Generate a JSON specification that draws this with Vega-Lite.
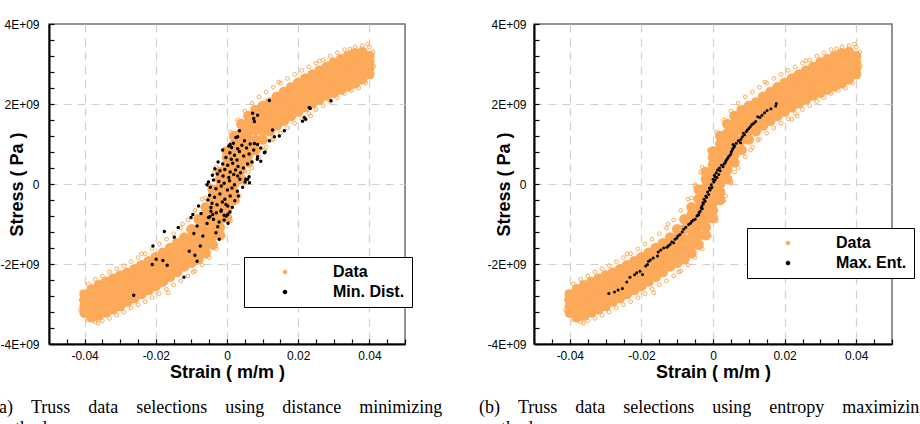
{
"$schema":"https://vega.github.io/schema/vega-lite/v6.json",
"background":"white",
"padding":{"left":-8,"top":17,"right":0,"bottom":0},
"bounds":"flush",
"spacing":129,
"datasets":{
"core":[
{"strain":0,"stress":-0.85e9},{"strain":0,"stress":-0.66e9},{"strain":0,"stress":-0.47e9},{"strain":0,"stress":-0.28e9},{"strain":0,"stress":-0.09e9},{"strain":0,"stress":0.1e9},{"strain":0,"stress":0.29e9},{"strain":0,"stress":0.48e9},{"strain":0,"stress":0.66e9},{"strain":0,"stress":0.82e9},
{"strain":0.002,"stress":-0.4e9},{"strain":0.002,"stress":-0.2e9},{"strain":0.002,"stress":0},{"strain":0.002,"stress":0.2e9},{"strain":0.002,"stress":0.4e9},{"strain":0.002,"stress":0.6e9},{"strain":0.002,"stress":0.8e9},{"strain":0.002,"stress":1.0e9},{"strain":0.002,"stress":1.2e9},
{"strain":-0.002,"stress":-1.28e9},{"strain":-0.002,"stress":-1.08e9},{"strain":-0.002,"stress":-0.88e9},{"strain":-0.002,"stress":-0.68e9},{"strain":-0.002,"stress":-0.48e9},{"strain":-0.002,"stress":-0.28e9},{"strain":-0.002,"stress":-0.08e9},{"strain":-0.002,"stress":0.12e9},{"strain":-0.002,"stress":0.3e9},
{"strain":0.004,"stress":0.12e9},{"strain":0.004,"stress":0.35e9},{"strain":0.004,"stress":0.58e9},{"strain":0.004,"stress":0.81e9},{"strain":0.004,"stress":1.04e9},{"strain":0.004,"stress":1.27e9},{"strain":0.004,"stress":1.5e9},
{"strain":-0.004,"stress":-1.52e9},{"strain":-0.004,"stress":-1.29e9},{"strain":-0.004,"stress":-1.06e9},{"strain":-0.004,"stress":-0.83e9},{"strain":-0.004,"stress":-0.6e9},{"strain":-0.004,"stress":-0.37e9},{"strain":-0.004,"stress":-0.14e9},
{"strain":0.006,"stress":0.54e9},{"strain":0.006,"stress":0.73e9},{"strain":0.006,"stress":0.93e9},{"strain":0.006,"stress":1.12e9},{"strain":0.006,"stress":1.31e9},{"strain":0.006,"stress":1.51e9},{"strain":0.006,"stress":1.7e9},
{"strain":-0.006,"stress":-1.73e9},{"strain":-0.006,"stress":-1.54e9},{"strain":-0.006,"stress":-1.35e9},{"strain":-0.006,"stress":-1.15e9},{"strain":-0.006,"stress":-0.96e9},{"strain":-0.006,"stress":-0.77e9},{"strain":-0.006,"stress":-0.58e9},
{"strain":0.008,"stress":0.85e9},{"strain":0.008,"stress":1.1e9},{"strain":0.008,"stress":1.35e9},{"strain":0.008,"stress":1.6e9},{"strain":0.008,"stress":1.85e9},
{"strain":-0.008,"stress":-1.88e9},{"strain":-0.008,"stress":-1.63e9},{"strain":-0.008,"stress":-1.38e9},{"strain":-0.008,"stress":-1.13e9},{"strain":-0.008,"stress":-0.88e9},
{"strain":0.01,"stress":1.11e9},{"strain":0.01,"stress":1.32e9},{"strain":0.01,"stress":1.53e9},{"strain":0.01,"stress":1.74e9},{"strain":0.01,"stress":1.95e9},
{"strain":-0.01,"stress":-1.97e9},{"strain":-0.01,"stress":-1.76e9},{"strain":-0.01,"stress":-1.55e9},{"strain":-0.01,"stress":-1.34e9},{"strain":-0.01,"stress":-1.13e9},
{"strain":0.012,"stress":1.32e9},{"strain":0.012,"stress":1.5e9},{"strain":0.012,"stress":1.68e9},{"strain":0.012,"stress":1.86e9},{"strain":0.012,"stress":2.04e9},
{"strain":-0.012,"stress":-2.06e9},{"strain":-0.012,"stress":-1.88e9},{"strain":-0.012,"stress":-1.7e9},{"strain":-0.012,"stress":-1.52e9},{"strain":-0.012,"stress":-1.34e9},
{"strain":0.014,"stress":1.46e9},{"strain":0.014,"stress":1.64e9},{"strain":0.014,"stress":1.82e9},{"strain":0.014,"stress":2.0e9},{"strain":0.014,"stress":2.18e9},
{"strain":-0.014,"stress":-2.2e9},{"strain":-0.014,"stress":-2.02e9},{"strain":-0.014,"stress":-1.84e9},{"strain":-0.014,"stress":-1.66e9},{"strain":-0.014,"stress":-1.48e9},
{"strain":0.016,"stress":1.58e9},{"strain":0.016,"stress":1.76e9},{"strain":0.016,"stress":1.94e9},{"strain":0.016,"stress":2.12e9},{"strain":0.016,"stress":2.3e9},
{"strain":-0.016,"stress":-2.32e9},{"strain":-0.016,"stress":-2.14e9},{"strain":-0.016,"stress":-1.96e9},{"strain":-0.016,"stress":-1.78e9},{"strain":-0.016,"stress":-1.6e9},
{"strain":0.018,"stress":1.7e9},{"strain":0.018,"stress":1.88e9},{"strain":0.018,"stress":2.06e9},{"strain":0.018,"stress":2.24e9},{"strain":0.018,"stress":2.42e9},
{"strain":-0.018,"stress":-2.44e9},{"strain":-0.018,"stress":-2.26e9},{"strain":-0.018,"stress":-2.08e9},{"strain":-0.018,"stress":-1.9e9},{"strain":-0.018,"stress":-1.72e9},
{"strain":0.02,"stress":1.81e9},{"strain":0.02,"stress":1.99e9},{"strain":0.02,"stress":2.17e9},{"strain":0.02,"stress":2.35e9},{"strain":0.02,"stress":2.53e9},
{"strain":-0.02,"stress":-2.55e9},{"strain":-0.02,"stress":-2.37e9},{"strain":-0.02,"stress":-2.19e9},{"strain":-0.02,"stress":-2.01e9},{"strain":-0.02,"stress":-1.83e9},
{"strain":0.022,"stress":1.92e9},{"strain":0.022,"stress":2.1e9},{"strain":0.022,"stress":2.28e9},{"strain":0.022,"stress":2.46e9},{"strain":0.022,"stress":2.64e9},
{"strain":-0.022,"stress":-2.65e9},{"strain":-0.022,"stress":-2.47e9},{"strain":-0.022,"stress":-2.29e9},{"strain":-0.022,"stress":-2.11e9},{"strain":-0.022,"stress":-1.93e9},
{"strain":0.024,"stress":2.02e9},{"strain":0.024,"stress":2.2e9},{"strain":0.024,"stress":2.38e9},{"strain":0.024,"stress":2.56e9},{"strain":0.024,"stress":2.74e9},
{"strain":-0.024,"stress":-2.75e9},{"strain":-0.024,"stress":-2.57e9},{"strain":-0.024,"stress":-2.39e9},{"strain":-0.024,"stress":-2.21e9},{"strain":-0.024,"stress":-2.03e9},
{"strain":0.026,"stress":2.12e9},{"strain":0.026,"stress":2.3e9},{"strain":0.026,"stress":2.48e9},{"strain":0.026,"stress":2.66e9},{"strain":0.026,"stress":2.84e9},
{"strain":-0.026,"stress":-2.85e9},{"strain":-0.026,"stress":-2.67e9},{"strain":-0.026,"stress":-2.49e9},{"strain":-0.026,"stress":-2.31e9},{"strain":-0.026,"stress":-2.13e9},
{"strain":0.028,"stress":2.21e9},{"strain":0.028,"stress":2.39e9},{"strain":0.028,"stress":2.57e9},{"strain":0.028,"stress":2.75e9},{"strain":0.028,"stress":2.93e9},
{"strain":-0.028,"stress":-2.94e9},{"strain":-0.028,"stress":-2.76e9},{"strain":-0.028,"stress":-2.58e9},{"strain":-0.028,"stress":-2.4e9},{"strain":-0.028,"stress":-2.22e9},
{"strain":0.03,"stress":2.28e9},{"strain":0.03,"stress":2.47e9},{"strain":0.03,"stress":2.66e9},{"strain":0.03,"stress":2.85e9},{"strain":0.03,"stress":3.04e9},
{"strain":-0.03,"stress":-3.05e9},{"strain":-0.03,"stress":-2.86e9},{"strain":-0.03,"stress":-2.67e9},{"strain":-0.03,"stress":-2.48e9},{"strain":-0.03,"stress":-2.29e9},
{"strain":0.032,"stress":2.36e9},{"strain":0.032,"stress":2.55e9},{"strain":0.032,"stress":2.74e9},{"strain":0.032,"stress":2.93e9},{"strain":0.032,"stress":3.12e9},
{"strain":-0.032,"stress":-3.13e9},{"strain":-0.032,"stress":-2.94e9},{"strain":-0.032,"stress":-2.75e9},{"strain":-0.032,"stress":-2.56e9},{"strain":-0.032,"stress":-2.37e9},
{"strain":0.034,"stress":2.44e9},{"strain":0.034,"stress":2.63e9},{"strain":0.034,"stress":2.82e9},{"strain":0.034,"stress":3.01e9},{"strain":0.034,"stress":3.2e9},
{"strain":-0.034,"stress":-3.21e9},{"strain":-0.034,"stress":-3.02e9},{"strain":-0.034,"stress":-2.83e9},{"strain":-0.034,"stress":-2.64e9},{"strain":-0.034,"stress":-2.45e9},
{"strain":0.036,"stress":2.52e9},{"strain":0.036,"stress":2.71e9},{"strain":0.036,"stress":2.9e9},{"strain":0.036,"stress":3.09e9},{"strain":0.036,"stress":3.27e9},
{"strain":-0.036,"stress":-3.29e9},{"strain":-0.036,"stress":-3.1e9},{"strain":-0.036,"stress":-2.91e9},{"strain":-0.036,"stress":-2.72e9},{"strain":-0.036,"stress":-2.53e9},
{"strain":0.038,"stress":2.62e9},{"strain":0.038,"stress":2.8e9},{"strain":0.038,"stress":2.97e9},{"strain":0.038,"stress":3.14e9},{"strain":0.038,"stress":3.3e9},
{"strain":-0.038,"stress":-3.33e9},{"strain":-0.038,"stress":-3.15e9},{"strain":-0.038,"stress":-2.98e9},{"strain":-0.038,"stress":-2.81e9},{"strain":-0.038,"stress":-2.63e9},
{"strain":0.04,"stress":2.75e9},{"strain":0.04,"stress":2.9e9},{"strain":0.04,"stress":3.05e9},{"strain":0.04,"stress":3.2e9},
{"strain":-0.04,"stress":-3.22e9},{"strain":-0.04,"stress":-3.06e9},{"strain":-0.04,"stress":-2.9e9},{"strain":-0.04,"stress":-2.76e9}
],
"edge":[
{"strain":0.041,"stress":3.3e9},{"strain":0.04,"stress":3.42e9},{"strain":0.038,"stress":3.46e9},{"strain":0.036,"stress":3.43e9},{"strain":0.0345,"stress":3.38e9},{"strain":0.033,"stress":3.36e9},{"strain":0.031,"stress":3.28e9},{"strain":0.029,"stress":3.2e9},{"strain":0.027,"stress":3.1e9},{"strain":0.025,"stress":3.02e9},{"strain":0.023,"stress":2.93e9},{"strain":0.021,"stress":2.84e9},{"strain":0.019,"stress":2.74e9},{"strain":0.017,"stress":2.64e9},{"strain":0.015,"stress":2.52e9},{"strain":0.013,"stress":2.42e9},{"strain":0.011,"stress":2.3e9},{"strain":0.009,"stress":2.18e9},{"strain":0.007,"stress":2.02e9},{"strain":0.005,"stress":1.82e9},{"strain":0.003,"stress":1.6e9},{"strain":0.001,"stress":1.3e9},{"strain":-0.001,"stress":0.85e9},{"strain":-0.003,"stress":0.42e9},{"strain":-0.005,"stress":-0.02e9},{"strain":-0.007,"stress":-0.38e9},{"strain":-0.009,"stress":-0.66e9},{"strain":-0.011,"stress":-0.9e9},{"strain":-0.013,"stress":-1.1e9},{"strain":-0.015,"stress":-1.24e9},{"strain":-0.017,"stress":-1.38e9},{"strain":-0.019,"stress":-1.5e9},{"strain":-0.021,"stress":-1.62e9},{"strain":-0.023,"stress":-1.74e9},{"strain":-0.025,"stress":-1.84e9},{"strain":-0.027,"stress":-1.94e9},{"strain":-0.029,"stress":-2.04e9},{"strain":-0.031,"stress":-2.12e9},{"strain":-0.033,"stress":-2.2e9},{"strain":-0.035,"stress":-2.3e9},{"strain":-0.037,"stress":-2.38e9},{"strain":-0.039,"stress":-2.5e9},{"strain":-0.0408,"stress":-2.7e9},
{"strain":0.0412,"stress":2.95e9},{"strain":0.0405,"stress":2.68e9},{"strain":0.039,"stress":2.52e9},{"strain":0.037,"stress":2.4e9},{"strain":0.035,"stress":2.34e9},{"strain":0.033,"stress":2.26e9},{"strain":0.031,"stress":2.16e9},{"strain":0.029,"stress":2.06e9},{"strain":0.027,"stress":1.96e9},{"strain":0.025,"stress":1.86e9},{"strain":0.023,"stress":1.76e9},{"strain":0.021,"stress":1.63e9},{"strain":0.019,"stress":1.52e9},{"strain":0.017,"stress":1.4e9},{"strain":0.015,"stress":1.27e9},{"strain":0.013,"stress":1.12e9},{"strain":0.011,"stress":0.92e9},{"strain":0.009,"stress":0.68e9},{"strain":0.007,"stress":0.4e9},{"strain":0.005,"stress":0.05e9},{"strain":0.003,"stress":-0.42e9},{"strain":0.001,"stress":-0.92e9},{"strain":-0.001,"stress":-1.3e9},{"strain":-0.003,"stress":-1.62e9},{"strain":-0.005,"stress":-1.84e9},{"strain":-0.007,"stress":-2.02e9},{"strain":-0.009,"stress":-2.18e9},{"strain":-0.011,"stress":-2.3e9},{"strain":-0.013,"stress":-2.42e9},{"strain":-0.015,"stress":-2.52e9},{"strain":-0.017,"stress":-2.63e9},{"strain":-0.019,"stress":-2.74e9},{"strain":-0.021,"stress":-2.84e9},{"strain":-0.023,"stress":-2.94e9},{"strain":-0.025,"stress":-3.02e9},{"strain":-0.027,"stress":-3.1e9},{"strain":-0.029,"stress":-3.2e9},{"strain":-0.031,"stress":-3.28e9},{"strain":-0.033,"stress":-3.36e9},{"strain":-0.035,"stress":-3.42e9},{"strain":-0.037,"stress":-3.45e9},{"strain":-0.039,"stress":-3.4e9},{"strain":-0.0412,"stress":-3.15e9},{"strain":-0.041,"stress":-2.9e9},
{"strain":0.0235,"stress":1.7e9},{"strain":0.022,"stress":1.62e9},{"strain":0.0395,"stress":3.5e9},{"strain":-0.0362,"stress":-3.48e9},{"strain":-0.0165,"stress":-2.72e9},{"strain":0.0145,"stress":2.55e9},{"strain":-0.0125,"stress":-1.0e9},{"strain":0.0105,"stress":0.85e9},{"strain":-0.024,"stress":-1.75e9},{"strain":0.026,"stress":3.08e9},{"strain":0.0125,"stress":1.1e9},{"strain":-0.0095,"stress":-2.2e9},
{"strain":0.005,"stress":0.02e9},{"strain":0.006,"stress":0.3e9},{"strain":-0.005,"stress":-0.05e9},{"strain":-0.006,"stress":-0.35e9},{"strain":0.0035,"stress":-0.3e9},{"strain":-0.0035,"stress":0.3e9}
],
"mind":[
{"strain":0.0119,"stress":2.09e9},{"strain":0.0231,"stress":1.91e9},{"strain":0.0221,"stress":1.62e9},{"strain":0.0212,"stress":1.57e9},{"strain":0.0292,"stress":2.08e9},{"strain":0.0234,"stress":1.89e9},{"strain":0.0217,"stress":1.66e9},{"strain":0.0072,"stress":1.77e9},{"strain":0.0086,"stress":1.72e9},{"strain":0.0075,"stress":1.64e9},{"strain":0.0077,"stress":1.56e9},{"strain":0.0161,"stress":1.33e9},{"strain":0.0128,"stress":1.35e9},{"strain":0.0147,"stress":1.2e9},{"strain":0.0133,"stress":1.18e9},{"strain":0.0035,"stress":1.33e9},{"strain":0.0025,"stress":1.16e9},{"strain":0.0049,"stress":1.08e9},{"strain":0.0077,"stress":1.01e9},{"strain":0.0086,"stress":0.99e9},{"strain":0.0119,"stress":1.08e9},{"strain":0.0013,"stress":0.91e9},{"strain":0.0009,"stress":0.99e9},{"strain":0.0107,"stress":0.8e9},{"strain":0.0086,"stress":0.68e9},{"strain":0.0058,"stress":0.12e9},{"strain":0.003,"stress":1.18e9},
{"strain":0.0005,"stress":0.95e9},{"strain":0.0018,"stress":1.02e9},{"strain":0.003,"stress":0.88e9},{"strain":0.0042,"stress":0.97e9},{"strain":0.0055,"stress":0.9e9},{"strain":0.0008,"stress":0.78e9},{"strain":0.0021,"stress":0.72e9},{"strain":0.0035,"stress":0.81e9},{"strain":-0.0003,"stress":0.66e9},{"strain":0.0012,"stress":0.62e9},{"strain":0.0028,"stress":0.6e9},{"strain":0.0047,"stress":0.7e9},{"strain":0.0062,"stress":0.75e9},{"strain":-0.0012,"stress":0.85e9},{"strain":0.0065,"stress":1.0e9},
{"strain":-0.0025,"stress":0.55e9},{"strain":-0.0012,"stress":0.5e9},{"strain":0.0002,"stress":0.47e9},{"strain":0.0016,"stress":0.52e9},{"strain":0.0031,"stress":0.44e9},{"strain":-0.0034,"stress":0.38e9},{"strain":-0.002,"stress":0.33e9},{"strain":-0.0006,"stress":0.36e9},{"strain":0.0009,"stress":0.3e9},{"strain":0.0024,"stress":0.35e9},{"strain":0.0038,"stress":0.28e9},{"strain":-0.0041,"stress":0.22e9},{"strain":-0.0027,"stress":0.25e9},{"strain":-0.0011,"stress":0.2e9},{"strain":0.0005,"stress":0.16e9},{"strain":0.0019,"stress":0.24e9},{"strain":0.0046,"stress":0.4e9},{"strain":0.0058,"stress":0.5e9},
{"strain":-0.0052,"stress":0.05e9},{"strain":-0.0038,"stress":0.1e9},{"strain":-0.0023,"stress":0.06e9},{"strain":-0.0008,"stress":0.02e9},{"strain":0.0007,"stress":0.08e9},{"strain":0.0021,"stress":-0.02e9},{"strain":0.0036,"stress":0.12e9},{"strain":0.0051,"stress":0.05e9},{"strain":0.0062,"stress":0.18e9},{"strain":-0.0047,"stress":-0.08e9},{"strain":-0.0031,"stress":-0.12e9},{"strain":-0.0016,"stress":-0.05e9},{"strain":0.0001,"stress":-0.15e9},{"strain":0.0014,"stress":-0.1e9},{"strain":0.0029,"stress":-0.18e9},{"strain":-0.0056,"stress":-0.02e9},{"strain":0.0044,"stress":-0.08e9},
{"strain":-0.0049,"stress":-0.28e9},{"strain":-0.0035,"stress":-0.33e9},{"strain":-0.002,"stress":-0.25e9},{"strain":-0.0006,"stress":-0.38e9},{"strain":0.0009,"stress":-0.3e9},{"strain":0.0022,"stress":-0.42e9},{"strain":-0.0042,"stress":-0.48e9},{"strain":-0.0028,"stress":-0.52e9},{"strain":-0.0013,"stress":-0.45e9},{"strain":0.0002,"stress":-0.55e9},{"strain":0.0015,"stress":-0.58e9},{"strain":-0.0054,"stress":-0.4e9},{"strain":0.0032,"stress":-0.3e9},
{"strain":-0.0045,"stress":-0.68e9},{"strain":-0.003,"stress":-0.72e9},{"strain":-0.0016,"stress":-0.65e9},{"strain":-0.0002,"stress":-0.8e9},{"strain":0.0008,"stress":-0.7e9},{"strain":-0.0038,"stress":-0.88e9},{"strain":-0.0022,"stress":-0.95e9},{"strain":-0.0008,"stress":-0.9e9},{"strain":0.0003,"stress":-0.98e9},{"strain":-0.0048,"stress":-0.82e9},
{"strain":-0.0176,"stress":-1.19e9},{"strain":-0.0208,"stress":-1.55e9},{"strain":-0.0137,"stress":-1.09e9},{"strain":-0.0148,"stress":-1.33e9},{"strain":-0.0199,"stress":-1.88e9},{"strain":-0.021,"stress":-2.01e9},{"strain":-0.018,"stress":-1.91e9},{"strain":-0.0168,"stress":-2.03e9},{"strain":-0.0121,"stress":-2.33e9},{"strain":-0.0106,"stress":-1.68e9},{"strain":-0.009,"stress":-1.78e9},{"strain":-0.0084,"stress":-1.93e9},{"strain":-0.0075,"stress":-1.55e9},{"strain":-0.0093,"stress":-1.24e9},{"strain":-0.0068,"stress":-1.3e9},{"strain":-0.0084,"stress":-1.05e9},{"strain":-0.0056,"stress":-0.99e9},{"strain":-0.0052,"stress":-0.84e9},{"strain":-0.0026,"stress":-1.07e9},{"strain":-0.0022,"stress":-1.38e9},{"strain":-0.0031,"stress":-1.22e9},{"strain":-0.0096,"stress":-0.76e9},{"strain":-0.0101,"stress":-0.84e9},{"strain":-0.008,"stress":-0.55e9},{"strain":-0.0073,"stress":-0.74e9},{"strain":-0.004,"stress":-0.76e9},{"strain":-0.0045,"stress":-0.59e9},{"strain":-0.0017,"stress":-0.68e9},{"strain":-0.0008,"stress":-0.78e9},{"strain":0.0002,"stress":-0.76e9},{"strain":-0.0003,"stress":-0.51e9},{"strain":-0.0262,"stress":-2.78e9},
{"strain":0.0053,"stress":0.12e9},{"strain":0.0063,"stress":0.03e9},{"strain":0.003,"stress":0.2e9},{"strain":0.0105,"stress":0.78e9},{"strain":0.0095,"stress":0.57e9},{"strain":0.0075,"stress":0.85e9},{"strain":0.0085,"stress":0.62e9},{"strain":0.0095,"stress":0.9e9},{"strain":0.007,"stress":0.55e9}
],
"maxent":[
{"strain":0.0177,"stress":2.01e9},{"strain":0.0175,"stress":1.95e9},{"strain":0.0151,"stress":1.84e9},{"strain":0.0144,"stress":1.78e9},{"strain":0.0125,"stress":1.68e9},{"strain":0.0119,"stress":1.56e9},{"strain":0.0109,"stress":1.49e9},{"strain":0.01,"stress":1.39e9},{"strain":0.0093,"stress":1.31e9},{"strain":0.0088,"stress":1.23e9},{"strain":0.0078,"stress":1.12e9},{"strain":0.0077,"stress":1.03e9},{"strain":0.0056,"stress":0.99e9},{"strain":0.0058,"stress":0.91e9},{"strain":0.0053,"stress":0.83e9},{"strain":0.0049,"stress":0.74e9},{"strain":0.0039,"stress":0.62e9},{"strain":0.0034,"stress":0.53e9},{"strain":0.0028,"stress":0.43e9},{"strain":0.002,"stress":0.33e9},{"strain":0.0016,"stress":0.24e9},{"strain":0.0006,"stress":0.18e9},{"strain":0,"stress":0.12e9},{"strain":0.0011,"stress":0.16e9},{"strain":-0.0003,"stress":-0.09e9},{"strain":-0.0012,"stress":-0.26e9},{"strain":-0.0022,"stress":-0.43e9},{"strain":-0.0031,"stress":-0.55e9},{"strain":-0.0036,"stress":-0.68e9},{"strain":-0.0045,"stress":-0.8e9},{"strain":-0.0059,"stress":-0.93e9},{"strain":-0.0068,"stress":-1.01e9},{"strain":-0.0082,"stress":-1.13e9},{"strain":-0.0092,"stress":-1.26e9},{"strain":-0.0106,"stress":-1.38e9},{"strain":-0.012,"stress":-1.51e9},{"strain":-0.0129,"stress":-1.58e9},{"strain":-0.0153,"stress":-1.7e9},{"strain":-0.0155,"stress":-1.8e9},{"strain":-0.018,"stress":-1.93e9},{"strain":-0.0183,"stress":-2.01e9},{"strain":-0.0204,"stress":-2.18e9},{"strain":-0.0213,"stress":-2.22e9},{"strain":-0.0232,"stress":-2.33e9},{"strain":-0.0253,"stress":-2.61e9},{"strain":-0.0291,"stress":-2.74e9},{"strain":-0.0197,"stress":-2.26e9},{"strain":-0.011,"stress":-1.47e9},{"strain":-0.005,"stress":-0.88e9},{"strain":-0.004,"stress":-0.76e9},{"strain":-0.0028,"stress":-0.47e9},
{"strain":0.0002,"stress":0.05e9},{"strain":-0.0005,"stress":-0.02e9},{"strain":-0.0008,"stress":-0.15e9},{"strain":-0.0015,"stress":-0.2e9},{"strain":-0.0018,"stress":-0.33e9},{"strain":-0.0025,"stress":-0.38e9},{"strain":-0.0027,"stress":-0.5e9},{"strain":-0.0033,"stress":-0.6e9},{"strain":-0.0039,"stress":-0.72e9},{"strain":0.0004,"stress":0.22e9},{"strain":0.0009,"stress":0.28e9},{"strain":0.0013,"stress":0.35e9},{"strain":0.0018,"stress":0.4e9},{"strain":0.0024,"stress":0.47e9},{"strain":0.0031,"stress":0.5e9},{"strain":0.0036,"stress":0.58e9},{"strain":0.0042,"stress":0.66e9},{"strain":0.0045,"stress":0.7e9},{"strain":0.0051,"stress":0.8e9},{"strain":0.0055,"stress":0.88e9},{"strain":0.006,"stress":0.95e9},{"strain":0.0065,"stress":1.02e9},{"strain":0.0071,"stress":1.08e9},{"strain":0.0082,"stress":1.18e9},{"strain":0.0085,"stress":1.27e9},{"strain":0.0096,"stress":1.35e9},{"strain":0.0104,"stress":1.43e9},{"strain":0.0114,"stress":1.52e9},{"strain":0.0131,"stress":1.66e9},{"strain":0.0137,"stress":1.72e9},{"strain":0.0162,"stress":1.88e9},{"strain":0.0006,"stress":0.1e9},{"strain":-0.001,"stress":-0.1e9},{"strain":-0.002,"stress":-0.3e9},{"strain":-0.003,"stress":-0.62e9},{"strain":-0.0042,"stress":-0.78e9},{"strain":-0.0055,"stress":-0.9e9},{"strain":-0.0063,"stress":-0.98e9},{"strain":-0.0076,"stress":-1.08e9},{"strain":-0.0086,"stress":-1.2e9},{"strain":-0.0098,"stress":-1.3e9},{"strain":-0.0101,"stress":-1.35e9},{"strain":-0.0115,"stress":-1.45e9},{"strain":-0.0125,"stress":-1.55e9},{"strain":-0.0138,"stress":-1.6e9},{"strain":-0.0146,"stress":-1.65e9},{"strain":-0.0167,"stress":-1.85e9},{"strain":-0.0175,"stress":-1.9e9},{"strain":-0.0188,"stress":-2.05e9},{"strain":-0.0219,"stress":-2.27e9},{"strain":-0.0241,"stress":-2.45e9},{"strain":-0.0265,"stress":-2.65e9},{"strain":-0.0275,"stress":-2.7e9}
]
},
"resolve":{"scale":{"color":"independent"},"legend":{"color":"independent"}},
"config":{
"font":"Liberation Sans",
"view":{"stroke":"#707070","strokeWidth":1.5},
"axis":{"labelFont":"Liberation Sans","labelFontSize":12,"labelColor":"#000000","titleFont":"Liberation Sans","titleFontSize":18,"titleFontWeight":"bold","titleColor":"#000000","domainColor":"#000000","domainWidth":2,"tickColor":"#000000","tickWidth":1.2,"tickSize":-5,"gridColor":"#cfcfcf","gridDash":[8,6],"gridWidth":1.2},
"legend":{"symbolSize":14,"symbolStrokeWidth":1,"labelFont":"Liberation Sans","labelFontSize":16,"labelFontWeight":"bold","labelColor":"#000000"}
},
"hconcat":[
{
"width":356,"height":320,
"title":{"text":["(a)\u2003Truss\u2003data\u2003selections\u2003using\u2003distance\u2003minimizing","methods"],"orient":"bottom","anchor":"start","frame":"group","dx":-56,"offset":18,"font":"Liberation Serif","fontSize":18,"fontWeight":"normal","color":"#000000","lineHeight":21,"baseline":"top","align":"left"},
"encoding":{
"x":{"field":"strain","type":"quantitative","scale":{"domain":[-0.05,0.05],"nice":false,"zero":false},"title":"Strain ( m/m )","axis":{"values":[-0.05,-0.045,-0.04,-0.035,-0.03,-0.025,-0.02,-0.015,-0.01,-0.005,0,0.005,0.01,0.015,0.02,0.025,0.03,0.035,0.04,0.045,0.05],"labelExpr":"abs(datum.value*50-round(datum.value*50))<1e-6 ? (datum.value<0?'-':'')+format(abs(datum.value),'~g') : ''","labelPadding":11,"titlePadding":2,"grid":true,"gridOpacity":{"condition":{"test":"abs(datum.value*50-round(datum.value*50))<1e-6","value":1},"value":0},"labelFlush":false}},
"y":{"field":"stress","type":"quantitative","scale":{"domain":[-4e9,4e9],"nice":false,"zero":false},"title":"Stress ( Pa )","axis":{"values":[-4e9,-3.6e9,-3.2e9,-2.8e9,-2.4e9,-2e9,-1.6e9,-1.2e9,-0.8e9,-0.4e9,0,0.4e9,0.8e9,1.2e9,1.6e9,2e9,2.4e9,2.8e9,3.2e9,3.6e9,4e9],"labelExpr":"datum.value % 2e9 == 0 ? (datum.value == 0 ? '0' : (datum.value<0?'-':'')+format(abs(datum.value)/1e9,'d')+'E+09') : ''","labelPadding":15,"titleX":-32,"titleY":160,"titleAngle":-90,"titleAlign":"center","titleBaseline":"middle","grid":true,"gridOpacity":{"condition":{"test":"datum.value % 2e9 == 0 && abs(datum.value) < 4e9","value":1},"value":0},"labelFlush":false}}
},
"layer":[
{"data":{"name":"core"},"mark":{"type":"point","shape":"circle","filled":true,"size":110,"color":"#FCAA5A","opacity":1}},
{"data":{"name":"edge"},"mark":{"type":"point","shape":"circle","filled":false,"size":14,"strokeWidth":1,"opacity":1},
"encoding":{"color":{"datum":"Data","type":"nominal","scale":{"domain":["Data","Min. Dist."],"range":["#FCAA5A","#000000"]},
"legend":{"orient":"none","legendX":195,"legendY":233,"title":null,"strokeColor":"#000000","fillColor":"#ffffff","padding":7,"symbolOffset":26,"labelOffset":40,"symbolType":"circle","labelLimit":200,"rowPadding":4,
"encode":{"symbols":{"fill":{"signal":"datum.value === 'Data' ? 'transparent' : '#000000'"},"stroke":{"signal":"datum.value === 'Data' ? '#FCAA5A' : '#000000'"},"size":{"signal":"datum.value === 'Data' ? 18 : 8"},"strokeWidth":{"value":1},"opacity":{"value":1}}}}}}},
{"data":{"name":"mind"},"mark":{"type":"point","shape":"circle","filled":true,"size":12,"opacity":1},"encoding":{"color":{"datum":"Min. Dist.","type":"nominal",
"legend":{"orient":"none","legendX":195,"legendY":233,"title":null,"strokeColor":"#000000","fillColor":"#ffffff","padding":7,"symbolOffset":26,"labelOffset":40,"symbolType":"circle","labelLimit":200,"rowPadding":4,
"encode":{"symbols":{"fill":{"signal":"datum.value === 'Data' ? 'transparent' : '#000000'"},"stroke":{"signal":"datum.value === 'Data' ? '#FCAA5A' : '#000000'"},"size":{"signal":"datum.value === 'Data' ? 18 : 8"},"strokeWidth":{"value":1},"opacity":{"value":1}}}}}}}
]
},
{
"width":358,"height":320,
"title":{"text":["(b)\u2003Truss\u2003data\u2003selections\u2003using\u2003entropy\u2003maximizing","methods"],"orient":"bottom","anchor":"start","frame":"group","dx":-55,"offset":18,"font":"Liberation Serif","fontSize":18,"fontWeight":"normal","color":"#000000","lineHeight":21,"baseline":"top","align":"left"},
"encoding":{
"x":{"field":"strain","type":"quantitative","scale":{"domain":[-0.05,0.05],"nice":false,"zero":false},"title":"Strain ( m/m )","axis":{"values":[-0.05,-0.045,-0.04,-0.035,-0.03,-0.025,-0.02,-0.015,-0.01,-0.005,0,0.005,0.01,0.015,0.02,0.025,0.03,0.035,0.04,0.045,0.05],"labelExpr":"abs(datum.value*50-round(datum.value*50))<1e-6 ? (datum.value<0?'-':'')+format(abs(datum.value),'~g') : ''","labelPadding":11,"titlePadding":2,"grid":true,"gridOpacity":{"condition":{"test":"abs(datum.value*50-round(datum.value*50))<1e-6","value":1},"value":0},"labelFlush":false}},
"y":{"field":"stress","type":"quantitative","scale":{"domain":[-4e9,4e9],"nice":false,"zero":false},"title":"Stress ( Pa )","axis":{"values":[-4e9,-3.6e9,-3.2e9,-2.8e9,-2.4e9,-2e9,-1.6e9,-1.2e9,-0.8e9,-0.4e9,0,0.4e9,0.8e9,1.2e9,1.6e9,2e9,2.4e9,2.8e9,3.2e9,3.6e9,4e9],"labelExpr":"datum.value % 2e9 == 0 ? (datum.value == 0 ? '0' : (datum.value<0?'-':'')+format(abs(datum.value)/1e9,'d')+'E+09') : ''","labelPadding":13,"titleX":-30,"titleY":160,"titleAngle":-90,"titleAlign":"center","titleBaseline":"middle","grid":true,"gridOpacity":{"condition":{"test":"datum.value % 2e9 == 0 && abs(datum.value) < 4e9","value":1},"value":0},"labelFlush":false}}
},
"layer":[
{"data":{"name":"core"},"mark":{"type":"point","shape":"circle","filled":true,"size":110,"color":"#FCAA5A","opacity":1}},
{"data":{"name":"edge"},"mark":{"type":"point","shape":"circle","filled":false,"size":14,"strokeWidth":1,"opacity":1},
"encoding":{"color":{"datum":"Data","type":"nominal","scale":{"domain":["Data","Max. Ent."],"range":["#FCAA5A","#000000"]},
"legend":{"orient":"none","legendX":213,"legendY":204,"title":null,"strokeColor":"#000000","fillColor":"#ffffff","padding":7,"symbolOffset":26,"labelOffset":40,"symbolType":"circle","labelLimit":200,"rowPadding":4,
"encode":{"symbols":{"fill":{"signal":"datum.value === 'Data' ? 'transparent' : '#000000'"},"stroke":{"signal":"datum.value === 'Data' ? '#FCAA5A' : '#000000'"},"size":{"signal":"datum.value === 'Data' ? 18 : 8"},"strokeWidth":{"value":1},"opacity":{"value":1}}}}}}},
{"data":{"name":"maxent"},"mark":{"type":"point","shape":"circle","filled":true,"size":9,"opacity":1},"encoding":{"color":{"datum":"Max. Ent.","type":"nominal",
"legend":{"orient":"none","legendX":213,"legendY":204,"title":null,"strokeColor":"#000000","fillColor":"#ffffff","padding":7,"symbolOffset":26,"labelOffset":40,"symbolType":"circle","labelLimit":200,"rowPadding":4,
"encode":{"symbols":{"fill":{"signal":"datum.value === 'Data' ? 'transparent' : '#000000'"},"stroke":{"signal":"datum.value === 'Data' ? '#FCAA5A' : '#000000'"},"size":{"signal":"datum.value === 'Data' ? 18 : 8"},"strokeWidth":{"value":1},"opacity":{"value":1}}}}}}}
]
}
]
}
